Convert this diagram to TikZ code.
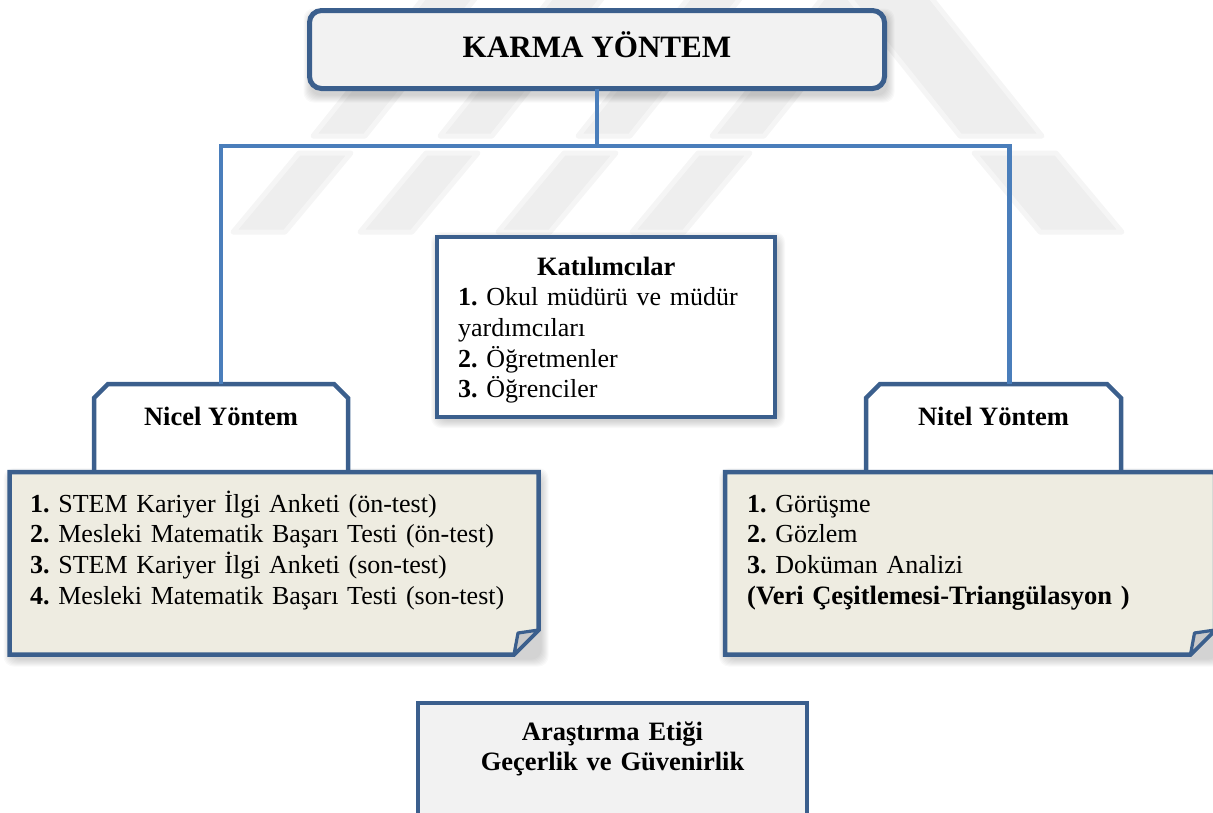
\documentclass[tikz,border=0pt]{standalone}
\usepackage{fontspec}
\setmainfont{Liberation Serif}
\usetikzlibrary{calc}

\definecolor{edge}{HTML}{3B5F8D}
\definecolor{link}{HTML}{4A7EBB}
\definecolor{paper}{HTML}{EEECE1}
\definecolor{pale}{HTML}{F2F2F2}
\definecolor{flap}{HTML}{C9C9C9}
\definecolor{wmcore}{HTML}{EEEEEE}
\definecolor{wmsoft}{HTML}{F5F5F5}

\newcommand\bodysize{\fontsize{26.5}{30.7}\selectfont}
\newcommand\listsize{\fontsize{26.0}{30.7}\selectfont}
\newcommand\titlesize{\fontsize{31.1}{36}\selectfont}

% soft shadow under a box with corners (#1,#2) and (#3,#4), pushed down by #5
\newcommand\softshade[5]{%
  \foreach \k in {1,...,8}{%
    \fill[black,opacity=0.022,rounded corners=10]
      (#1+2-\k,#2+#5-\k) rectangle (#3+2+\k,#4+#5+\k);}}

\begin{document}
\begin{tikzpicture}[x=1pt,y=-1pt,
  panel/.style={draw=edge, line width=4.5, inner sep=0, outer sep=0},
  edgeline/.style={draw=edge, line width=4.5, line join=miter},
  conn/.style={draw=link, line width=4.6},
  slot/.style={inner sep=0, outer sep=0},
  wm/.style={fill=wmcore, draw=wmsoft, line width=5, line join=round},
  head/.style={inner sep=0, anchor=base, font=\bodysize\bfseries\frenchspacing},
  items/.style={inner sep=0, anchor=base west, text width=#1,
    font=\listsize\frenchspacing, execute at begin node=\raggedright},
]
\useasboundingbox (0,0) rectangle (1213,812);
\clip (0,0) rectangle (1213,812);

% faint striped watermark in the background (two bands of slanted bars)
\foreach \a in {233,360,498,632}{
  \path[wm] (\a,232) -- (\a+52,232) -- (\a+52+66,153) -- (\a+66,153) -- cycle;
  \path[wm] (\a+80,136) -- (\a+52+80,136) -- (\a+52+193,-5) -- (\a+193,-5) -- cycle;}
\path[wm] (1040,232) -- (1122,232) -- (1122-66,153) -- (1040-66,153) -- cycle;
\path[wm] (1040-80,136) -- (1122-80,136) -- (1122-193,-5) -- (1040-193,-5) -- cycle;

% shadows
\softshade{309.5}{10.5}{884.5}{88.5}{6}
\softshade{437}{237}{775}{417}{3}
\softshade{9.5}{472}{538.5}{654.5}{4}
\softshade{725}{472}{1215}{654.5}{4}

% top box
\node[panel, line width=5, rounded corners=12, fill=pale,
      minimum width=575, minimum height=78] (karma) at (597,49.5) {};

% participants box
\node[panel, fill=white, minimum width=338, minimum height=180] (kat) at (606,327) {};

% tabs
\node[slot, minimum width=254, minimum height=88] (nicelTab) at (221,428) {};
\node[slot, minimum width=255, minimum height=88] (nitelTab) at (993.5,428) {};
\foreach \t in {nicelTab,nitelTab}{
  \draw[edgeline, fill=white] (\t.south west) -- ($(\t.north west)+(0,14)$)
    -- ($(\t.north west)+(14,0)$) -- ($(\t.north east)+(-14,0)$)
    -- ($(\t.north east)+(0,14)$) -- (\t.south east);}

% note boxes with a turned corner
\node[slot, minimum width=529, minimum height=182.5] (nicelBox) at (274,563.25) {};
\node[slot, minimum width=490, minimum height=182.5] (nitelBox) at (970,563.25) {};
\foreach \b in {nicelBox,nitelBox}{
  \draw[edgeline, fill=paper] (\b.north west) -- (\b.north east)
    -- ($(\b.south east)+(0,-24.5)$) -- ($(\b.south east)+(-24.5,0)$)
    -- (\b.south west) -- cycle;
  \draw[draw=edge, line width=3.2, line join=round, fill=flap]
    ($(\b.south east)+(0,-24.5)$) -- ($(\b.south east)+(-20.5,-21.5)$)
    -- ($(\b.south east)+(-24.5,0)$) -- cycle;}

% ethics box
\node[panel, fill=pale, minimum width=389, minimum height=127] (etik) at (612.5,766.5) {};

% connectors
\coordinate (hub) at (597,146);
\coordinate (nitelIn) at ($(nitelTab.north)+(16,0)$);
\draw[conn] (karma.south) -- (hub);
\draw[conn] (nicelTab.north) |- (hub) -| (nitelIn);

% texts
\node[inner sep=0, anchor=base, font=\titlesize\bfseries] (karmaT) at (597,57) {KARMA YÖNTEM};
\node[items=296] (katL) at (458,275) {\makebox[\linewidth]{\bodysize\bfseries Katılımcılar}\\
  \textbf{1.} Okul müdürü ve müdür\\ yardımcıları\\ \textbf{2.} Öğretmenler\\ \textbf{3.} Öğrenciler};
\node[head] (nicelT) at (221,425) {Nicel Yöntem};
\node[head] (nitelT) at (993.5,425) {Nitel Yöntem};
\node[items=500] (nicelL) at (30,512) {\textbf{1.} STEM Kariyer İlgi Anketi (ön-test)\\
  \textbf{2.} Mesleki Matematik Başarı Testi (ön-test)\\
  \textbf{3.} STEM Kariyer İlgi Anketi (son-test)\\
  \textbf{4.} Mesleki Matematik Başarı Testi (son-test)};
\node[items=450] (nitelL) at (747,512) {\textbf{1.} Görüşme\\ \textbf{2.} Gözlem\\
  \textbf{3.} Doküman Analizi\\ {\bodysize\bfseries (Veri Çeşitlemesi-Triangülasyon )}};
\node[inner sep=0, anchor=base, align=center, text width=380, font=\bodysize\bfseries]
  (etikT) at (612.5,740) {Araştırma Etiği\\ Geçerlik ve Güvenirlik};
\end{tikzpicture}
\end{document}
